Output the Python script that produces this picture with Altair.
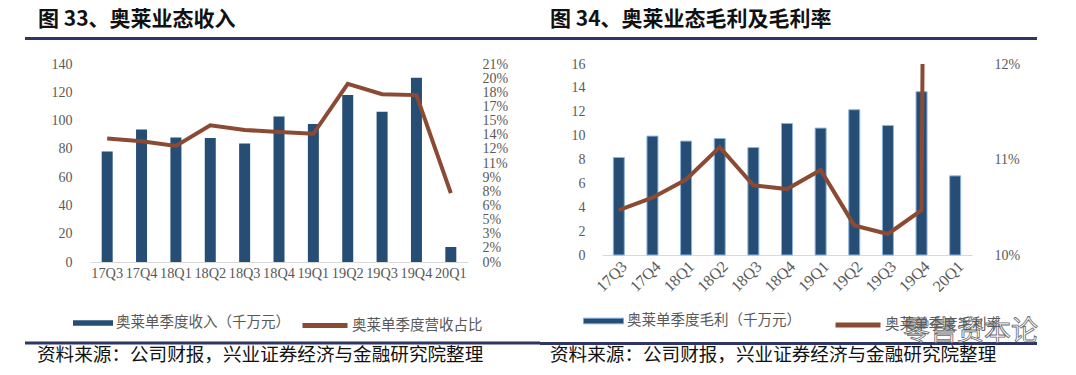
import altair as alt
import pandas as pd

# ---------------- data ----------------
quarters = ["17Q3", "17Q4", "18Q1", "18Q2", "18Q3", "18Q4", "19Q1", "19Q2", "19Q3", "19Q4", "20Q1"]
revenue = [78.1, 93.7, 88.1, 87.6, 83.8, 102.9, 97.5, 118.0, 106.2, 130.3, 10.6]
revenue_share = [0.131, 0.128, 0.123, 0.145, 0.140, 0.138, 0.136, 0.189, 0.178, 0.177, 0.073]
gross_profit = [8.17, 9.96, 9.54, 9.76, 9.00, 11.02, 10.63, 12.17, 10.85, 13.68, 6.63]
gross_margin = [0.1047, 0.1060, 0.1079, 0.1113, 0.1073, 0.1069, 0.1089, 0.1031, 0.1022, 0.1047, 0.625]

left_ticks = [0, 20, 40, 60, 80, 100, 120, 140]
left_pct_ticks = [0, 0.015, 0.03, 0.045, 0.06, 0.075, 0.09, 0.105, 0.12, 0.135, 0.15, 0.165, 0.18, 0.195, 0.21]
right_ticks = [0, 2, 4, 6, 8, 10, 12, 14, 16]
right_pct_ticks = [0.10, 0.11, 0.12]

title_left = ["图 33、奥莱业态收入"]
title_right = ["图 34、奥莱业态毛利及毛利率"]
source_text = ["资料来源：公司财报，兴业证券经济与金融研究院整理"]
legend_rev = "奥莱单季度收入（千万元）"
legend_share = "奥莱单季度营收占比"
legend_gp = "奥莱单季度毛利（千万元）"
legend_gm = "奥莱单季度毛利率"
watermark = ["零售资本论"]

# ---------------- styles ----------------
BLUE = "#264e74"
BROWN = "#8b4a33"
NAVY = "#2f3663"
GRAY = "#595959"
SERIF = "Liberation Serif"
CJK = "Noto Sans CJK SC"
BAR_PATH = "M-1,-0.14H1V0.14H-1Z"


def one(col, vals):
    return pd.DataFrame({col: vals})


def frame(x0, x1):
    """invisible box that fixes the panel's bounds"""
    return alt.Chart(one("a", [0])).mark_rect(opacity=0).encode(
        x=alt.value(x0), x2=alt.value(x1), y=alt.value(-56), y2=alt.value(303)
    )


def heading(title, tx):
    return alt.Chart(one("t", title)).mark_text(
        align="left", baseline="middle", font=CJK, fontSize=21, fontWeight="bold", color="#111111"
    ).encode(text="t:N", x=alt.value(tx), y=alt.value(-44))


def band(xa, xb, y):
    """horizontal navy separator, drawn as a thin filled rect"""
    return alt.Chart(one("a", [0])).mark_rect(color=NAVY).encode(
        x=alt.value(xa), x2=alt.value(xb), y=alt.value(y - 1.5), y2=alt.value(y + 1.5)
    )


def source(tx):
    return alt.Chart(one("t", source_text)).mark_text(
        align="left", baseline="middle", font=CJK, fontSize=18.6, color="#111111"
    ).encode(text="t:N", x=alt.value(tx), y=alt.value(291))


def x_enc(angle, padding, size):
    return alt.X(
        "q:N", sort=quarters,
        scale=alt.Scale(paddingInner=0, paddingOuter=0),
        axis=alt.Axis(title=None, labelAngle=angle, ticks=False, domainColor="#d9d9d9",
                      labelFont=SERIF, labelFontSize=size, labelColor=GRAY,
                      labelPadding=padding, labelOverlap=False),
    )


def y_axis(orient, values, padding, **kw):
    return alt.Axis(orient=orient, values=values, title=None, grid=False, ticks=False, domain=False,
                    labelFont=SERIF, labelFontSize=14, labelColor=GRAY, labelPadding=padding,
                    labelOverlap=False, **kw)


def bar_legend(lx, ly, stroke_w):
    return alt.Legend(orient="none", legendX=lx, legendY=ly, title=None, symbolType=BAR_PATH,
                      symbolSize=1600, symbolStrokeWidth=stroke_w, symbolStrokeColor="#7fa7d3",
                      labelFont=CJK, labelFontSize=14.5, labelColor=GRAY, labelLimit=400,
                      labelOffset=3, padding=0)


def line_legend(lx, ly):
    return alt.Legend(orient="none", legendX=lx, legendY=ly, title=None, symbolType="stroke",
                      symbolSize=2025, symbolStrokeWidth=5,
                      labelFont=CJK, labelFontSize=14.5, labelColor=GRAY, labelLimit=400,
                      labelOffset=2, padding=0)


# ---------------- left panel ----------------
df_l = pd.DataFrame({"q": quarters, "v": revenue, "p": revenue_share,
                     "s1": legend_rev, "s2": legend_share})

bars_l = alt.Chart(df_l).mark_bar(size=11, color=BLUE).encode(
    x=x_enc(0, 4, 14.3),
    y=alt.Y("v:Q", scale=alt.Scale(domain=[0, 140], nice=False), axis=y_axis("left", left_ticks, 18)),
    color=alt.Color("s1:N", scale=alt.Scale(range=[BLUE]), legend=bar_legend(-17, 239, 0)),
)
line_l = alt.Chart(df_l).mark_line(strokeWidth=4).encode(
    x=x_enc(0, 4, 14.3),
    y=alt.Y("p:Q", scale=alt.Scale(domain=[0, 0.21], nice=False),
            axis=y_axis("right", left_pct_ticks, 14, labelExpr="round(datum.value*100) + '%'")),
    stroke=alt.Stroke("s2:N", scale=alt.Scale(range=[BROWN]), legend=line_legend(210, 236.5)),
)
left = alt.layer(
    frame(-82, 450), bars_l, line_l, heading(title_left, -52),
    band(-65, 450, -25.5), band(-65, 450, 279), source(-53)
).resolve_scale(y="independent").properties(width=378, height=198)

# ---------------- right panel ----------------
df_r = pd.DataFrame({"q": quarters, "v": gross_profit, "p": gross_margin,
                     "s1": legend_gp, "s2": legend_gm})

bars_r = alt.Chart(df_r).mark_bar(size=11, color=BLUE, stroke="#8fb3dc", strokeWidth=1).encode(
    x=x_enc(315, 3, 16),
    y=alt.Y("v:Q", scale=alt.Scale(domain=[0, 16], nice=False), axis=y_axis("left", right_ticks, 17)),
    color=alt.Color("s1:N", scale=alt.Scale(range=[BLUE]), legend=bar_legend(-19, 236.5, 1)),
)
line_r = alt.Chart(df_r).mark_line(strokeWidth=4, clip=True).encode(
    x=x_enc(315, 3, 16),
    y=alt.Y("p:Q", scale=alt.Scale(domain=[0.10, 0.12], nice=False),
            axis=y_axis("right", right_pct_ticks, 22, format=".0%")),
    stroke=alt.Stroke("s2:N", scale=alt.Scale(range=[BROWN]), legend=line_legend(231, 236)),
)
wm = alt.Chart(one("t", watermark)).mark_text(
    align="left", baseline="middle", font=CJK, fontSize=27, fill="white", stroke="#6a6a6a",
    strokeWidth=0.8
).encode(text="t:N", x=alt.value(301), y=alt.value(268))
right = alt.layer(
    frame(-62, 466), bars_r, line_r, heading(title_right, -52),
    band(-62, 435, -25.5), band(-62, 435, 279.5), source(-52), wm
).resolve_scale(y="independent").properties(width=370, height=191)

chart = alt.hconcat(left, right, spacing=0).resolve_scale(color="independent", stroke="independent") \
    .properties(padding=0).configure_view(stroke=None)

chart.save("out.html", embed_options={"renderer": "svg", "actions": False})
